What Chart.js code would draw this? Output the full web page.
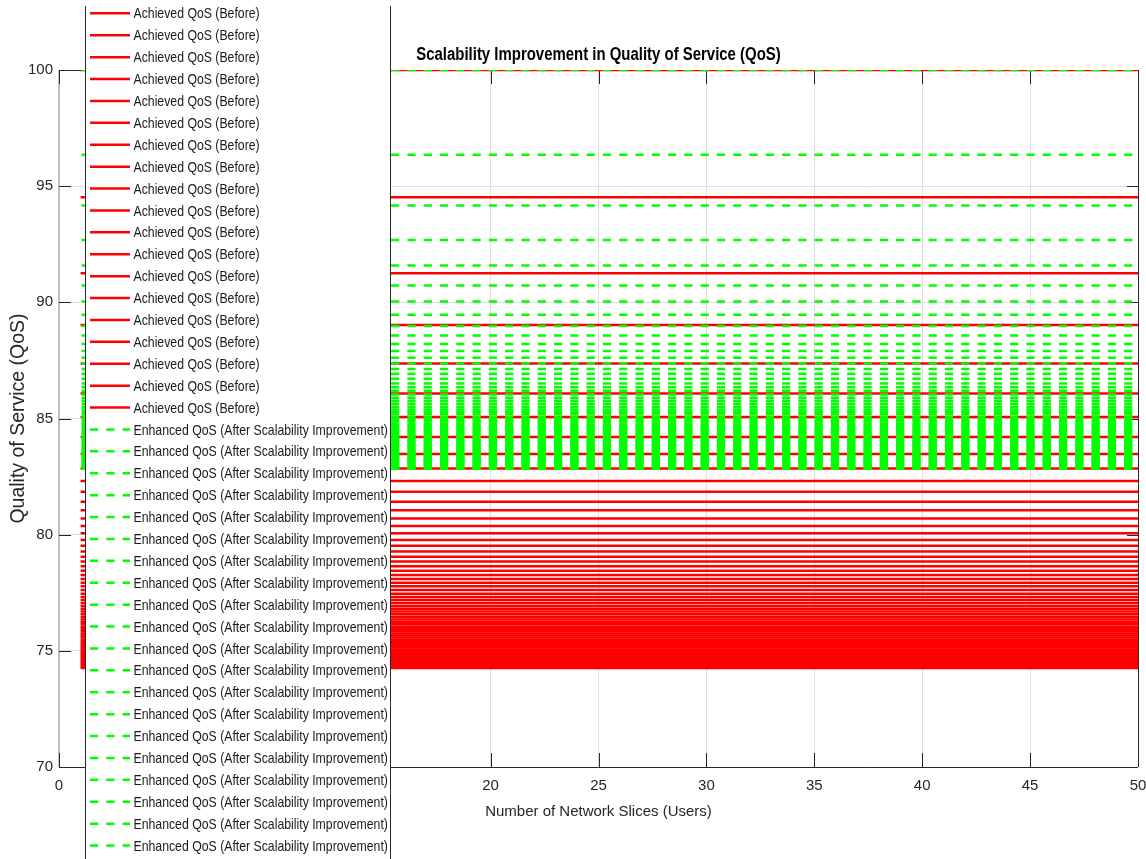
<!DOCTYPE html>
<html>
<head>
<meta charset="utf-8">
<script src="https://cdn.jsdelivr.net/npm/chart.js@4.4.1/dist/chart.umd.min.js"></script>
<style>
  html, body { margin: 0; padding: 0; background: #fff; }
</style>
</head>
<body>
<canvas id="qosCanvas" width="1146" height="859"></canvas>
<script>
// number of network slices on the x axis
var slices = [1,2,3,4,5,6,7,8,9,10,11,12,13,14,15,16,17,18,19,20,21,22,23,24,25,
              26,27,28,29,30,31,32,33,34,35,36,37,38,39,40,41,42,43,44,45,46,47,48,49,50];

// one flat line per value
var achievedQoS = [100.00, 94.52, 91.25, 89.02, 87.37, 86.08, 85.06, 84.20, 83.47, 82.85,
                   82.31, 81.85, 81.42, 81.05, 80.70, 80.37, 80.06, 79.77, 79.52, 79.28,
                   79.05, 78.84, 78.64, 78.45, 78.26, 78.09, 77.93, 77.78, 77.62, 77.46,
                   77.32, 77.19, 77.06, 76.93, 76.81, 76.69, 76.57, 76.46, 76.35, 76.24,
                   76.14, 76.04, 75.94, 75.84, 75.75, 75.66, 75.57, 75.48, 75.39, 75.31,
                   75.22, 75.14, 75.06, 74.98, 74.90, 74.83, 74.75, 74.68, 74.61, 74.54,
                   74.47, 74.40, 74.33, 74.26];

var enhancedQoS = [100.00, 96.35, 94.17, 92.68, 91.58, 90.72, 90.04, 89.47, 88.98, 88.57,
                   88.21, 87.90, 87.61, 87.37, 87.13, 86.91, 86.71, 86.51, 86.35, 86.19,
                   86.03, 85.89, 85.76, 85.63, 85.51, 85.39, 85.29, 85.19, 85.08, 84.97,
                   84.88, 84.79, 84.71, 84.62, 84.54, 84.46, 84.38, 84.31, 84.23, 84.16,
                   84.09, 84.03, 83.96, 83.89, 83.83, 83.77, 83.71, 83.65, 83.59, 83.54,
                   83.48, 83.43, 83.37, 83.32, 83.27, 83.22, 83.17, 83.12, 83.07, 83.03,
                   82.98, 82.93, 82.89, 82.84];

var xTickValues = [0, 5, 10, 15, 20, 25, 30, 35, 40, 45, 50];
var yTickValues = [70, 75, 80, 85, 90, 95, 100];

var sansFont = "'Liberation Sans', Arial, sans-serif";
var axisColor = '#262626';

var datasets = [];
achievedQoS.forEach(function (v) {
    datasets.push({
        label: 'Achieved QoS (Before)',
        data: slices.map(function (x) { return { x: x, y: v }; }),
        borderColor: '#ff0000',
        borderWidth: 2.5,
        pointRadius: 0,
        fill: false,
        order: 1
    });
});
enhancedQoS.forEach(function (v) {
    datasets.push({
        label: 'Enhanced QoS (After Scalability Improvement)',
        data: slices.map(function (x) { return { x: x, y: v }; }),
        borderColor: '#00ff00',
        borderWidth: 2.5,
        borderDash: [8.2, 8.09],
        borderDashOffset: 15.3,
        pointRadius: 0,
        fill: false,
        order: 0
    });
});

// condensed text, the figure uses a narrow face
function narrowText(ctx, text, x, y, align, sx) {
    ctx.save();
    ctx.translate(x, y);
    ctx.scale(sx, 1);
    ctx.textAlign = align;
    ctx.fillText(text, 0, 0);
    ctx.restore();
}

// matlab style box: gray left edge, black elsewhere, inward ticks
var boxPlugin = {
    id: 'boxPlugin',
    beforeDatasetsDraw: function (chart) {
        var ctx = chart.ctx, ca = chart.chartArea;
        var xs = chart.scales.x, ys = chart.scales.y;
        ctx.save();
        ctx.strokeStyle = '#b0b0b0';
        ctx.lineWidth = 1.5;
        ctx.beginPath();
        ctx.moveTo(ca.left, ca.top);
        ctx.lineTo(ca.left, ca.bottom);
        ctx.stroke();

        ctx.strokeStyle = axisColor;
        ctx.lineWidth = 1;
        ctx.beginPath();
        ctx.moveTo(ca.left, ca.bottom + 0.5);
        ctx.lineTo(ca.right, ca.bottom + 0.5);
        ctx.moveTo(ca.left, ca.top + 0.5);
        ctx.lineTo(ca.right, ca.top + 0.5);
        ctx.moveTo(ca.right + 0.5, ca.top);
        ctx.lineTo(ca.right + 0.5, ca.bottom);
        xTickValues.forEach(function (v) {
            var px = Math.round(xs.getPixelForValue(v)) + 0.5;
            ctx.moveTo(px, ca.top);
            ctx.lineTo(px, ca.top + 14);
            ctx.moveTo(px, ca.bottom);
            ctx.lineTo(px, ca.bottom - 14);
        });
        yTickValues.forEach(function (v) {
            var py = Math.round(ys.getPixelForValue(v)) + 0.5;
            ctx.moveTo(ca.left, py);
            ctx.lineTo(ca.left + 12, py);
            ctx.moveTo(ca.right, py);
            ctx.lineTo(ca.right - 11, py);
        });
        ctx.stroke();
        ctx.restore();
    },
    afterDraw: function (chart) {
        var ctx = chart.ctx, ca = chart.chartArea;
        var sets = chart.data.datasets;

        // title over the plot area
        ctx.save();
        ctx.fillStyle = '#000';
        ctx.font = 'bold 18px ' + sansFont;
        ctx.textBaseline = 'middle';
        narrowText(ctx, 'Scalability Improvement in Quality of Service (QoS)', (ca.left + ca.right) / 2, 55, 'center', 0.83);
        ctx.restore();

        // the legend is taller than the figure, centred on the axes
        var rowH = 21.9, n = sets.length, cy = (ca.top + ca.bottom) / 2;
        var boxL = 85.5, boxR = 390.5;
        var top = cy - n * rowH / 2 - 6, bottom = cy + n * rowH / 2 + 6;
        ctx.save();
        ctx.beginPath();
        ctx.rect(0, 6, chart.width, chart.height - 6);
        ctx.clip();
        ctx.fillStyle = '#fff';
        ctx.fillRect(boxL, top, boxR - boxL, bottom - top);
        ctx.strokeStyle = axisColor;
        ctx.lineWidth = 1;
        ctx.strokeRect(boxL, top, boxR - boxL, bottom - top);
        ctx.font = '15px ' + sansFont;
        ctx.textBaseline = 'middle';
        sets.forEach(function (ds, i) {
            var y = cy + (i - n / 2 + 0.5) * rowH;
            if (y < -20 || y > chart.height + 20) return;
            ctx.beginPath();
            ctx.setLineDash(ds.borderDash || []);
            ctx.lineDashOffset = 0;
            ctx.strokeStyle = ds.borderColor;
            ctx.lineWidth = ds.borderWidth;
            ctx.moveTo(90, y);
            ctx.lineTo(130, y);
            ctx.stroke();
            ctx.setLineDash([]);
            ctx.fillStyle = '#1a1a1a';
            narrowText(ctx, ds.label, 133.5, y + 1, 'left', 0.818);
        });
        ctx.restore();
    }
};

function noPad(scale) {
    scale.paddingLeft = 0;
    scale.paddingRight = 0;
    scale.paddingTop = 0;
    scale.paddingBottom = 0;
}

var ctx = document.getElementById('qosCanvas').getContext('2d');
var qosChart = new Chart(ctx, {
    type: 'line',
    data: { datasets: datasets },
    options: {
        responsive: false,
        animation: false,
        events: [],
        layout: { padding: { left: 0, right: 8, top: 70, bottom: 0 } },
        plugins: {
            legend: { display: false },
            tooltip: { enabled: false },
            title: { display: false }
        },
        scales: {
            x: {
                type: 'linear',
                min: 0,
                max: 50,
                afterBuildTicks: function (scale) {
                    scale.ticks = xTickValues.map(function (v) { return { value: v }; });
                },
                afterFit: function (scale) { scale.height = 92; noPad(scale); },
                grid: { color: '#dfdfdf', drawTicks: false },
                border: { display: false },
                ticks: {
                    color: axisColor,
                    font: { family: sansFont, size: 15 },
                    padding: 10,
                    maxRotation: 0,
                    autoSkip: false
                },
                title: {
                    display: true,
                    text: 'Number of Network Slices (Users)',
                    color: axisColor,
                    font: { family: sansFont, size: 15 },
                    padding: { top: 0, bottom: 38 }
                }
            },
            y: {
                type: 'linear',
                min: 70,
                max: 100,
                afterBuildTicks: function (scale) {
                    scale.ticks = yTickValues.map(function (v) { return { value: v }; });
                },
                afterFit: function (scale) { scale.width = 59; noPad(scale); },
                grid: { color: '#dfdfdf', drawTicks: false },
                border: { display: false },
                ticks: {
                    color: axisColor,
                    font: { family: sansFont, size: 15 },
                    padding: 6
                },
                title: {
                    display: true,
                    text: 'Quality of Service (QoS)',
                    color: axisColor,
                    font: { family: sansFont, size: 19.5 },
                    padding: { top: 7, bottom: 0 }
                }
            }
        }
    },
    plugins: [boxPlugin]
});
</script>
</body>
</html>
